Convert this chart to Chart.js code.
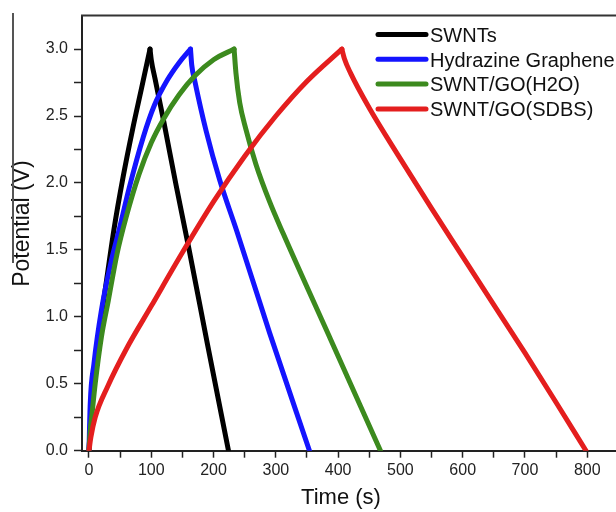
<!DOCTYPE html>
<html><head><meta charset="utf-8">
<script src="https://cdn.jsdelivr.net/npm/chart.js@4"></script>
<style>
html,body{margin:0;padding:0;background:#fff;overflow:hidden;}
#wrap{position:relative;width:630px;height:512px;}
#edge{position:absolute;left:12px;top:13px;width:0;height:250px;border-left:2px solid #555;}
</style></head><body>
<div id="wrap"><canvas id="c" width="630" height="512"></canvas><div id="edge"></div></div>
<script>
// ---- data ----
const seriesNames = ['SWNTs', 'Hydrazine Graphene', 'SWNT/GO(H2O)', 'SWNT/GO(SDBS)'];
const seriesColors = ['#000000', '#1414ff', '#3c8a1e', '#e41e1e'];

const swntTime = [0, 3, 10, 20, 30, 40, 55, 70, 85, 98, 100, 106, 120, 140, 160, 190, 224];
const swntPot  = [0, 0.25, 0.62, 1.00, 1.33, 1.65, 2.05, 2.40, 2.72, 3.0, 2.92, 2.78, 2.46, 1.98, 1.52, 0.80, 0];

const hydTime = [0, 2, 8, 20, 35, 49, 65, 87, 105, 126, 145, 163, 165, 170, 188, 210, 237, 290, 354];
const hydPot  = [0, 0.35, 0.65, 1.05, 1.40, 1.66, 1.97, 2.34, 2.58, 2.77, 2.90, 3.0, 2.88, 2.76, 2.39, 2.02, 1.645, 0.88, 0];

const h2oTime = [0, 2, 5, 10, 20, 31, 45, 60, 80, 100, 120, 145, 170, 200, 233, 236, 242, 252, 268, 290, 312, 390, 468];
const h2oPot  = [0, 0.15, 0.28, 0.50, 0.85, 1.12, 1.47, 1.75, 2.06, 2.30, 2.48, 2.66, 2.80, 2.92, 3.0, 2.82, 2.60, 2.40, 2.14, 1.86, 1.62, 0.81, 0];

const sdbsTime = [0, 3, 10, 30, 60, 100, 150, 200, 250, 300, 350, 406, 410, 420, 450, 500, 550, 600, 650, 700, 750, 798];
const sdbsPot  = [0, 0.10, 0.25, 0.48, 0.76, 1.08, 1.48, 1.86, 2.20, 2.50, 2.76, 3.0, 2.93, 2.82, 2.56, 2.18, 1.81, 1.45, 1.09, 0.73, 0.36, 0];

const xTickValues = [0, 100, 200, 300, 400, 500, 600, 700, 800];
const yTickValues = [0.0, 0.5, 1.0, 1.5, 2.0, 2.5, 3.0];

// ---- build: each curve = charge branch + discharge branch (sharp apex) ----
const allTimes = [swntTime, hydTime, h2oTime, sdbsTime];
const allPots  = [swntPot, hydPot, h2oPot, sdbsPot];
const FONT = '"Liberation Sans", Arial, sans-serif';

const datasets = [];
allTimes.forEach((t, i) => {
  const v = allPots[i];
  const pk = v.indexOf(Math.max(...v));
  const p = t.map((x, k) => ({x: x, y: v[k]}));
  [p.slice(0, pk + 1), p.slice(pk)].forEach((part) => {
    datasets.push({
      label: seriesNames[i],
      data: part,
      borderColor: seriesColors[i],
      backgroundColor: seriesColors[i],
      borderWidth: 5,
      borderCapStyle: 'round',
      borderJoinStyle: 'round',
      pointRadius: 0,
      cubicInterpolationMode: 'monotone',
      fill: false,
      order: 4 - i
    });
  });
});

const framePlugin = {
  id: 'frame',
  afterDraw(chart){
    const {ctx, chartArea} = chart;
    ctx.save();
    ctx.strokeStyle = '#333';
    ctx.lineWidth = 2;
    ctx.beginPath();
    ctx.moveTo(chartArea.left - 1, chartArea.top);
    ctx.lineTo(chartArea.right + 20, chartArea.top);
    ctx.stroke();
    ctx.restore();
  }
};

const legendPlugin = {
  id: 'ownLegend',
  afterDraw(chart){
    const ctx = chart.ctx;
    const x0 = 378, y0 = 34.5, dy = 24.8;
    seriesNames.forEach((name, i) => {
      const y = y0 + i * dy;
      ctx.save();
      ctx.strokeStyle = seriesColors[i];
      ctx.lineWidth = 5;
      ctx.lineCap = 'round';
      ctx.beginPath();
      ctx.moveTo(x0, y);
      ctx.lineTo(x0 + 48, y);
      ctx.stroke();
      ctx.fillStyle = '#111';
      ctx.font = '20px ' + FONT;
      ctx.textBaseline = 'alphabetic';
      ctx.fillText(name, x0 + 52, y + 7.2);
      ctx.restore();
    });
  }
};

new Chart(document.getElementById('c'), {
  type: 'line',
  data: { datasets },
  options: {
    responsive: false,
    animation: false,
    layout: { padding: { left: 0, top: 15, right: 11.6, bottom: 0 } },
    plugins: { legend: { display: false }, tooltip: { enabled: false } },
    scales: {
      x: {
        type: 'linear',
        min: -11.2, max: 850,
        afterBuildTicks(s){
          const ticks = [];
          xTickValues.forEach(v => { ticks.push({value: v}); if (v + 50 <= 850) ticks.push({value: v + 50}); });
          s.ticks = ticks.sort((a,b)=>a.value-b.value);
        },
        afterFit(s){ s.height = 61.3; },
        ticks: {
          callback: (v) => xTickValues.includes(v) ? String(v) : '',
          font: { size: 16, family: FONT },
          color: '#222',
          padding: 3,
          maxRotation: 0,
          autoSkip: false
        },
        grid: { drawOnChartArea: false, drawTicks: true, tickLength: 7, tickColor: '#222', tickWidth: 1.5 },
        border: { display: true, color: '#222', width: 2 },
        title: { display: true, text: 'Time (s)   ', font: { size: 22, family: FONT }, color: '#111', padding: { top: 0, bottom: 1 } }
      },
      y: {
        min: 0, max: 3.25,
        afterBuildTicks(s){
          const ticks = [];
          yTickValues.forEach(v => { ticks.push({value: v}); if (v + 0.25 < 3.2) ticks.push({value: v + 0.25}); });
          s.ticks = ticks.sort((a,b)=>a.value-b.value);
        },
        afterFit(s){ s.width = 82; },
        ticks: {
          callback: (v) => yTickValues.some(t => Math.abs(t - v) < 1e-6) ? v.toFixed(1) : '',
          font: { size: 16, family: FONT },
          color: '#222',
          padding: 6,
          autoSkip: false
        },
        grid: { drawOnChartArea: false, drawTicks: true, tickLength: 8, tickColor: '#222', tickWidth: 1.5 },
        border: { display: true, color: '#222', width: 2 },
        title: { display: true, text: '   Potential (V)', font: { size: 23, family: FONT }, color: '#111', padding: { top: 9, bottom: 0 } }
      }
    }
  },
  plugins: [framePlugin, legendPlugin]
});
</script>
</body></html>
